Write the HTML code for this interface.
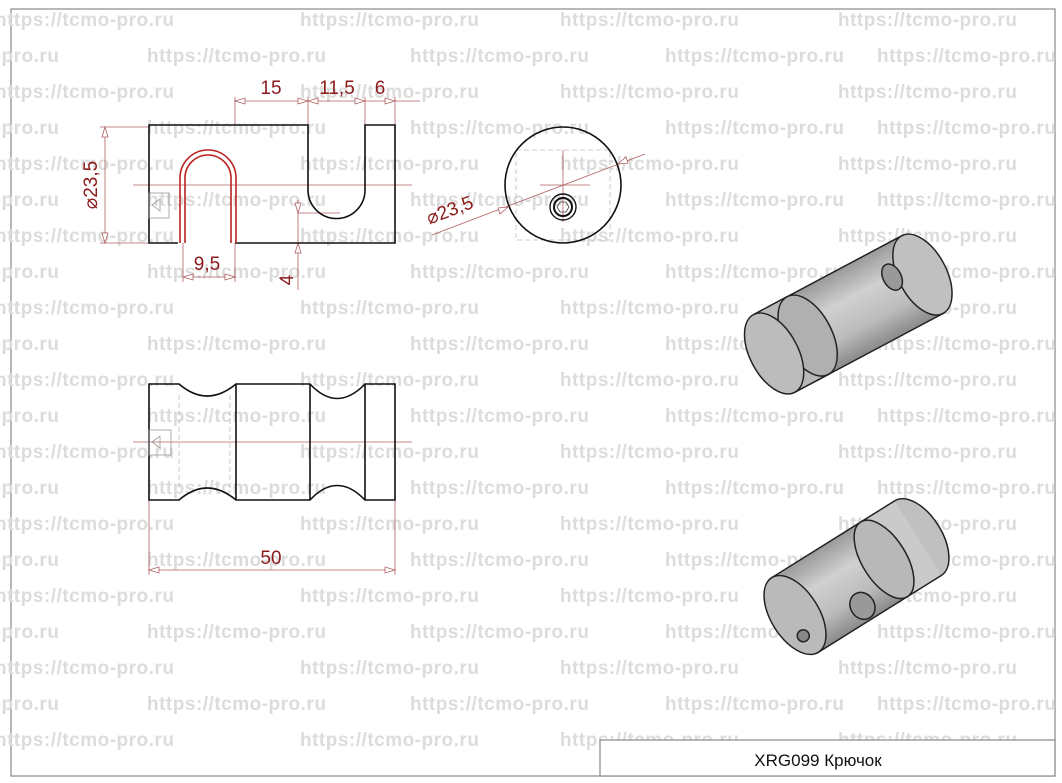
<!DOCTYPE html>
<html><head><meta charset="utf-8"><style>
html,body{margin:0;padding:0;background:#fff;}
svg{display:block;}
.wm{font-family:"Liberation Sans",sans-serif;font-weight:bold;font-size:19px;letter-spacing:0.5px;fill:#dcdcdc;}
.dim{font-family:"Liberation Sans",sans-serif;font-size:19px;fill:#8b1a1a;}
</style></head><body>
<svg width="1062" height="783" viewBox="0 0 1062 783" xmlns="http://www.w3.org/2000/svg">
<defs>
<linearGradient id="cyl" x1="0" y1="0" x2="0" y2="1">
<stop offset="0" stop-color="#9a9a9a"/><stop offset="0.35" stop-color="#d0d0d0"/><stop offset="0.7" stop-color="#bcbcbc"/><stop offset="1" stop-color="#8a8a8a"/>
</linearGradient>
<g id="rowA">
<text x="-5" y="0">https://tcmo-pro.ru</text><text x="300" y="0">https://tcmo-pro.ru</text><text x="560" y="0">https://tcmo-pro.ru</text><text x="838" y="0">https://tcmo-pro.ru</text>
</g>
<g id="rowB">
<text x="-120" y="0">https://tcmo-pro.ru</text><text x="147" y="0">https://tcmo-pro.ru</text><text x="410" y="0">https://tcmo-pro.ru</text><text x="665" y="0">https://tcmo-pro.ru</text><text x="877" y="0">https://tcmo-pro.ru</text>
</g>
</defs>
<rect x="11" y="9" width="1044" height="767" fill="none" stroke="#888" stroke-width="1.2"/>
<g class="wm">
<use href="#rowA" y="26"/><use href="#rowB" y="62"/><use href="#rowA" y="98"/><use href="#rowB" y="134"/>
<use href="#rowA" y="170"/><use href="#rowB" y="206"/><use href="#rowA" y="242"/><use href="#rowB" y="278"/>
<use href="#rowA" y="314"/><use href="#rowB" y="350"/><use href="#rowA" y="386"/><use href="#rowB" y="422"/>
<use href="#rowA" y="458"/><use href="#rowB" y="494"/><use href="#rowA" y="530"/><use href="#rowB" y="566"/>
<use href="#rowA" y="602"/><use href="#rowB" y="638"/><use href="#rowA" y="674"/><use href="#rowB" y="710"/>
<use href="#rowA" y="746"/>
</g>

<!-- TOP VIEW -->
<g fill="none" stroke="#b06060" stroke-width="0.8">
<line x1="133" y1="185" x2="412" y2="185"/>
<line x1="235" y1="101" x2="420" y2="101"/>
<line x1="235" y1="97" x2="235" y2="125"/>
<line x1="308" y1="97" x2="308" y2="125"/>
<line x1="365" y1="97" x2="365" y2="125"/>
<line x1="395" y1="97" x2="395" y2="125"/>
<line x1="105" y1="127" x2="105" y2="243"/>
<line x1="100" y1="127" x2="149" y2="127"/>
<line x1="100" y1="243" x2="149" y2="243"/>
<line x1="183" y1="243" x2="183" y2="282"/>
<line x1="235" y1="243" x2="235" y2="282"/>
<line x1="183" y1="277" x2="235" y2="277"/>
<line x1="298" y1="200" x2="298" y2="290"/>
<line x1="298" y1="213" x2="340" y2="213"/>
</g>
<g fill="#fff" stroke="#b06060" stroke-width="0.8">
<path d="M235 101 l10 -3 v6z"/><path d="M308 101 l-10 -3 v6z"/><path d="M308 101 l10 -3 v6z"/><path d="M365 101 l-10 -3 v6z"/><path d="M395 101 l-10 -3 v6z"/>
<path d="M105 127 l-3 10 h6z"/><path d="M105 243 l-3 -10 h6z"/>
<path d="M183 277 l10 -3 v6z"/><path d="M235 277 l-10 -3 v6z"/>
<path d="M298 213 l-3 -10 h6z"/><path d="M298 243 l-3 10 h6z"/>
</g>
<g fill="none" stroke="#111" stroke-width="1.6">
<path d="M178 243 H149 V125 H308 V190 A28 28 0 0 0 365 190 V125 H395 V243 H235"/>
</g>
<g fill="none" stroke="#b22" stroke-width="1.6">
<path d="M180 243 V178 A28 28 0 0 1 236 178 V243"/>
<path d="M185 243 V178 A23 23 0 0 1 231 178 V243"/>
</g>
<g fill="none" stroke="#999" stroke-width="0.8"><rect x="149" y="193" width="20" height="25"/><path d="M152 205 l8 -6 v12z"/></g>
<text class="dim" x="271" y="94" text-anchor="middle">15</text>
<text class="dim" x="337" y="94" text-anchor="middle">11,5</text>
<text class="dim" x="380" y="94" text-anchor="middle">6</text>
<text class="dim" x="207" y="270" text-anchor="middle">9,5</text>
<text class="dim" transform="translate(97,185) rotate(-90)" text-anchor="middle">⌀23,5</text>
<text class="dim" transform="translate(293,280) rotate(-90)" text-anchor="middle">4</text>

<!-- END VIEW -->
<g fill="none" stroke="#bbb" stroke-width="0.8" stroke-dasharray="5,3">
<path d="M516 150 H610 V240 H516 Z"/>
</g>
<g stroke="#b06060" stroke-width="0.8">
<line x1="540" y1="185" x2="590" y2="185"/><line x1="563" y1="150" x2="563" y2="222"/>
<line x1="432" y1="235" x2="645" y2="154"/>
</g>
<circle cx="563" cy="185" r="58" fill="none" stroke="#111" stroke-width="1.6"/>
<circle cx="563" cy="207" r="13" fill="none" stroke="#111" stroke-width="1.4"/>
<circle cx="563" cy="207" r="9" fill="none" stroke="#111" stroke-width="2"/>
<path d="M557 207 l3 -5 h6 l3 5 l-3 5 h-6z" fill="none" stroke="#444" stroke-width="0.8"/>
<g fill="#fff" stroke="#b06060" stroke-width="0.8"><path d="M508 207 l-10 1 l2 6z"/><path d="M618 164 l10 -1 l-2 -6z"/></g>
<text class="dim" transform="translate(452,216) rotate(-21)" text-anchor="middle">⌀23,5</text>

<!-- BOTTOM VIEW -->
<g stroke="#b06060" stroke-width="0.8" fill="none">
<line x1="133" y1="442" x2="412" y2="442"/>
<line x1="149" y1="500" x2="149" y2="575"/><line x1="395" y1="500" x2="395" y2="575"/>
<line x1="149" y1="570" x2="395" y2="570"/>
</g>
<g fill="#fff" stroke="#b06060" stroke-width="0.8"><path d="M149 570 l10 -3 v6z"/><path d="M395 570 l-10 -3 v6z"/></g>
<g fill="none" stroke="#bbb" stroke-width="0.8" stroke-dasharray="5,3">
<line x1="179" y1="395" x2="179" y2="490"/><line x1="230" y1="395" x2="230" y2="490"/>
</g>
<g fill="none" stroke="#111" stroke-width="1.6">
<path d="M149 384 H179 Q207 408 236 384 H310 Q337 413 365 384 H395 V500 H365 Q337 471 310 500 H236 Q207 476 179 500 H149 Z"/>
<line x1="236" y1="384" x2="236" y2="500"/><line x1="310" y1="384" x2="310" y2="500"/><line x1="365" y1="384" x2="365" y2="500"/>
</g>
<g fill="none" stroke="#999" stroke-width="0.8"><rect x="149" y="430" width="22" height="25"/><path d="M152 442 l8 -6 v12z"/></g>
<text class="dim" x="271" y="564" text-anchor="middle">50</text>

<!-- ISO 1 -->
<g transform="translate(790,345) rotate(-28)" stroke="#222" stroke-width="1.5">
<rect x="0" y="-44" width="150" height="88" fill="url(#cyl)"/>
<ellipse cx="150" cy="0" rx="24" ry="44" fill="#c0c0c0"/>
<ellipse cx="122" cy="-12" rx="9" ry="14" fill="#999"/>
<rect x="-18" y="-44" width="38" height="88" fill="#b8b8b8" stroke="none"/>
<ellipse cx="20" cy="0" rx="24" ry="44" fill="#b0b0b0"/>
<ellipse cx="-18" cy="0" rx="24" ry="44" fill="#bcbcbc"/>
<line x1="-18" y1="-44" x2="20" y2="-44"/><line x1="-18" y1="44" x2="20" y2="44"/>
</g>
<!-- ISO 2 -->
<g transform="translate(795,615) rotate(-32)" stroke="#222" stroke-width="1.5">
<ellipse cx="145" cy="0" rx="24" ry="44" fill="#c0c0c0"/>
<rect x="105" y="-44" width="40" height="88" fill="#cacaca" stroke="none"/>
<line x1="105" y1="-44" x2="145" y2="-44"/><line x1="105" y1="44" x2="145" y2="44"/>
<rect x="0" y="-44" width="105" height="88" fill="url(#cyl)"/>
<ellipse cx="105" cy="0" rx="22" ry="44" fill="#b8b8b8"/>
<ellipse cx="62" cy="28" rx="12" ry="14" fill="#999"/>
<ellipse cx="0" cy="0" rx="24" ry="44" fill="#bababa"/>
<circle cx="-4" cy="22" r="6" fill="#888"/>
</g>

<!-- TITLE -->
<rect x="600" y="740" width="455" height="36" fill="#fff" stroke="#888" stroke-width="1.2"/>
<text x="818" y="766" text-anchor="middle" font-family="Liberation Sans, sans-serif" font-size="17" fill="#111">XRG099  Крючок</text>
</svg>
</body></html>
